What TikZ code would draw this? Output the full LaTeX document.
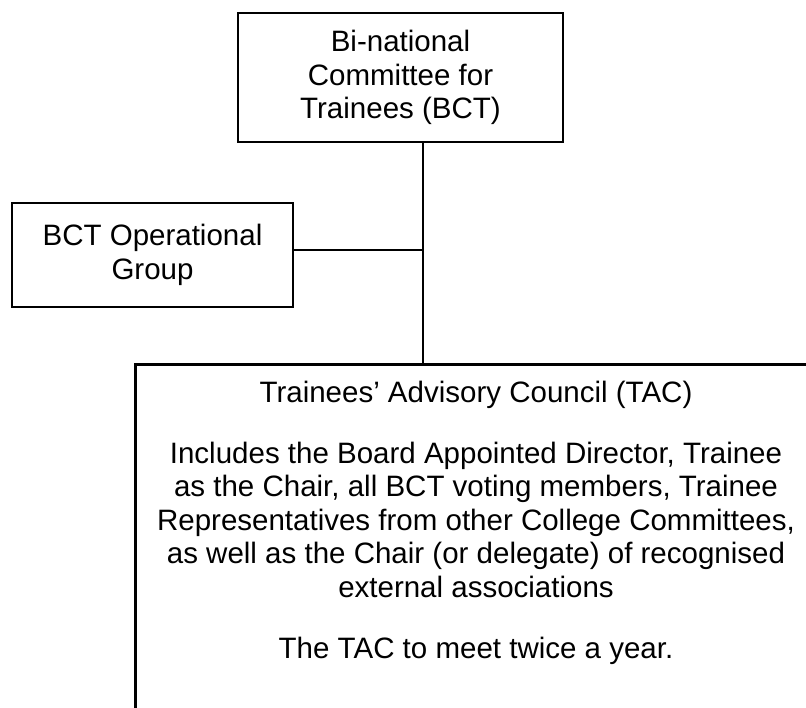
\documentclass[tikz,border=0pt]{standalone}
\usepackage{fontspec}
\setmainfont{Liberation Sans}
\begin{document}
\begin{tikzpicture}[x=1pt,y=-1pt,
  orgbox/.style={draw=black, line width=2.7pt, align=center, inner sep=0pt,
    font=\fontsize{29.5}{33.6}\selectfont},
  orgtext/.style={align=center, inner sep=0pt, font=\fontsize{29.5}{33.6}\selectfont},
  link/.style={draw=black, line width=1.3pt}]
\clip (0,0) rectangle (806,707);
\useasboundingbox (0,0) rectangle (806,707);
\node[orgbox, minimum width=325pt, minimum height=129pt] (bct) at (400.5,77.5)
  {Bi-national\\Committee for\\Trainees (BCT)};
\node[orgbox, minimum width=281pt, minimum height=104pt] (ops) at (152.5,255)
  {BCT Operational\\Group};
\node[orgbox, minimum width=684pt, minimum height=600pt, anchor=north west] (tac) at (134,363) {};
\node[orgtext, anchor=base] (tactext) at (476,658.4)
  {Trainees’ Advisory Council (TAC)\\[27.4pt]
   Includes the Board Appointed Director, Trainee\\
   as the Chair, all BCT voting members, Trainee\\
   Representatives from other College Committees,\\
   as well as the Chair (or delegate) of recognised\\
   external associations\\[27.4pt]
   The TAC to meet twice a year.};
\coordinate (j) at (423,250);
\draw[link] (bct.south -| j) -- (tac.north -| j);
\draw[link] (ops.east |- j) -- (j);
\end{tikzpicture}
\end{document}
